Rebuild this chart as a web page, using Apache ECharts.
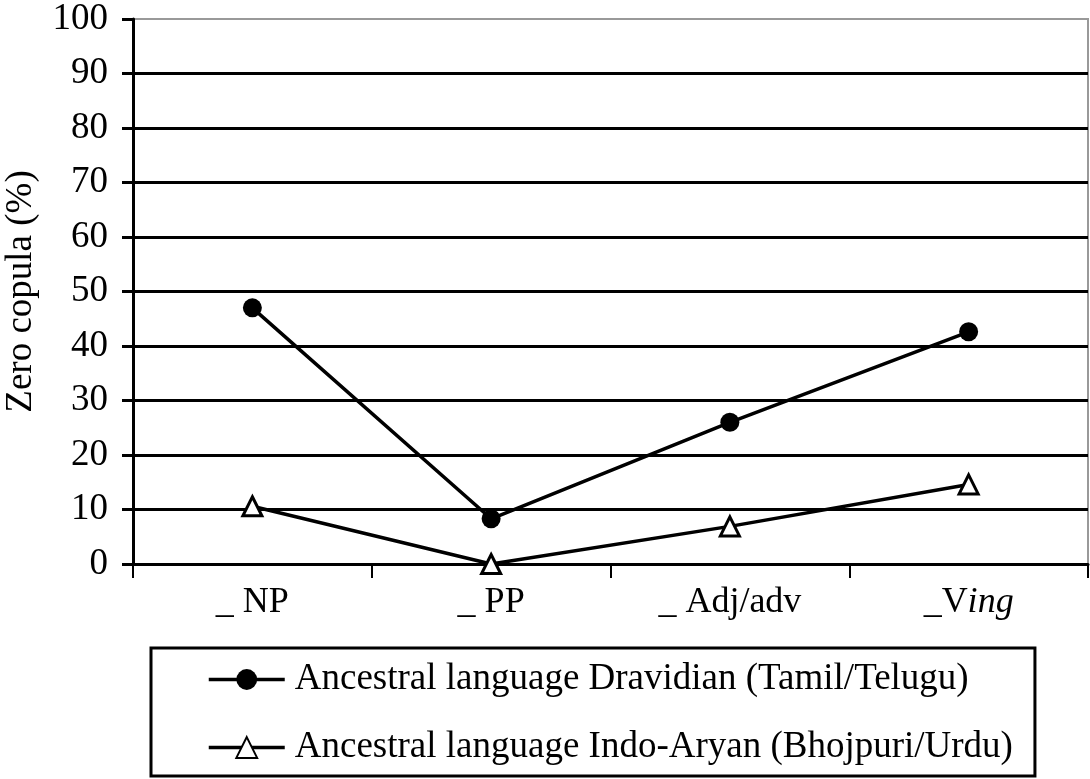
<!DOCTYPE html>
<html>
<head>
<meta charset="utf-8">
<script src="https://cdn.jsdelivr.net/npm/echarts@6/dist/echarts.min.js"></script>
<style>
html,body{margin:0;padding:0;background:#fff;}
#chart{width:1090px;height:779px;}
</style>
</head>
<body>
<div id="chart"></div>
<script>
const categories = ['_ NP', '_ PP', '_ Adj/adv', '_Ving'];
const dravidian = [47, 8.3, 26, 42.6];
const indoAryan = [10.6, 0, 6.9, 14.6];
const seriesNames = ['Ancestral language Dravidian (Tamil/Telugu)', 'Ancestral language Indo-Aryan (Bhojpuri/Urdu)'];
const yTicks = {min: 0, max: 100, interval: 10};
const yName = 'Zero copula (%)';

const FONT = '"Liberation Serif", "Times New Roman", serif';
const chart = echarts.init(document.getElementById('chart'), null, {renderer: 'canvas'});
chart.setOption({
  backgroundColor: '#fff',
  animation: false,
  grid: {left: 133, right: 2, top: 19, bottom: 215, outerBoundsMode: 'none', containLabel: false, show: true, borderColor: '#999', borderWidth: 2, backgroundColor: 'transparent'},
  xAxis: {
    type: 'category',
    data: categories,
    boundaryGap: true,
    axisLine: {lineStyle: {color: '#000', width: 3}},
    axisTick: {show: true, length: 14, lineStyle: {color: '#000', width: 2}},
    axisLabel: {
      margin: 21,
      color: '#000', fontFamily: FONT, fontSize: 36,
      formatter: function (v) {
        if (v.endsWith('ing')) return v.slice(0, -3) + '{i|ing}';
        return v;
      },
      rich: {i: {fontStyle: 'italic', fontFamily: FONT, fontSize: 36, color: '#000'}}
    }
  },
  yAxis: {
    type: 'value',
    min: yTicks.min, max: yTicks.max, interval: yTicks.interval,
    name: yName,
    nameLocation: 'middle',
    nameRotate: 90,
    nameGap: 93,
    nameTextStyle: {color: '#000', fontFamily: FONT, fontSize: 37},
    axisLine: {show: true, lineStyle: {color: '#000', width: 3}},
    axisTick: {show: true, inside: false, length: 11, lineStyle: {color: '#000', width: 3}},
    axisLabel: {color: '#000', fontFamily: FONT, fontSize: 37, margin: 25},
    splitLine: {show: true, showMaxLine: false, lineStyle: {color: '#000', width: 3}}
  },
  legend: {
    left: 151, top: 648,
    orient: 'vertical',
    padding: [13, 22, 10, 56],
    itemGap: 31,
    itemWidth: 76,
    itemHeight: 26,
    borderColor: '#000',
    borderWidth: 3,
    lineStyle: {width: 3.5},
    textStyle: {color: '#000', fontFamily: FONT, fontSize: 37, padding: [0, 0, 0, 5]},
    data: seriesNames
  },
  series: [
    {
      name: seriesNames[0], type: 'line', data: dravidian,
      symbol: 'circle', symbolSize: 19,
      lineStyle: {color: '#000', width: 3.5},
      itemStyle: {color: '#000', borderColor: '#000', borderWidth: 0}
    },
    {
      name: seriesNames[1], type: 'line', data: indoAryan,
      symbol: 'triangle', symbolSize: 19,
      lineStyle: {color: '#000', width: 3.5},
      itemStyle: {color: '#fff', borderColor: '#000', borderWidth: 3}
    }
  ]
});
</script>
</body>
</html>
